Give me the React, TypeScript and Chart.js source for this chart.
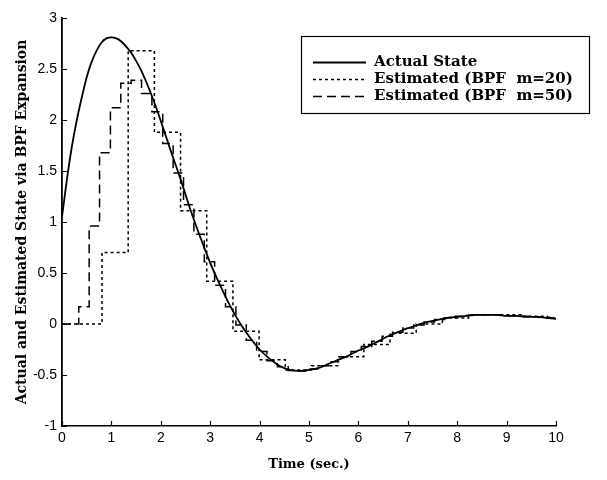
import React, { useEffect, useRef } from "react";
import { Chart, registerables } from "chart.js";

Chart.register(...registerables);

// Actual state (sampled from the reference curve)
const actualT = [0, 0.1, 0.2, 0.3, 0.4, 0.5, 0.6, 0.7, 0.8, 0.9, 1.0, 1.1, 1.2, 1.3, 1.4, 1.5, 1.6, 1.7, 1.8, 1.9, 2.0, 2.2, 2.4, 2.6, 2.8, 3.0, 3.2, 3.4, 3.6, 3.8, 4.0, 4.2, 4.4, 4.6, 4.8, 5.0, 5.2, 5.4, 5.6, 5.8, 6.0, 6.2, 6.4, 6.6, 6.8, 7.0, 7.2, 7.4, 7.6, 7.8, 8.0, 8.2, 8.4, 8.6, 8.8, 9.0, 9.2, 9.4, 9.6, 9.8, 10.0];
const actualY = [1.05, 1.42, 1.74, 2.0, 2.22, 2.42, 2.57, 2.68, 2.76, 2.8, 2.81, 2.8, 2.77, 2.72, 2.66, 2.58, 2.49, 2.38, 2.26, 2.13, 1.99, 1.7, 1.42, 1.12, 0.85, 0.6, 0.38, 0.18, 0.01, -0.13, -0.25, -0.34, -0.41, -0.45, -0.46, -0.45, -0.43, -0.39, -0.35, -0.31, -0.26, -0.22, -0.17, -0.12, -0.08, -0.04, -0.01, 0.02, 0.04, 0.06, 0.07, 0.08, 0.09, 0.09, 0.09, 0.08, 0.08, 0.07, 0.07, 0.06, 0.05];

// Estimated (BPF m=20): step start times and step values
const m20Times = [0, 0.81, 1.34, 1.87, 2.4, 2.93, 3.46, 3.99, 4.52, 5.05, 5.58, 6.11, 6.64, 7.17, 7.7, 8.23, 8.76, 9.29, 9.82];
const m20Values = [0, 0.7, 2.68, 1.88, 1.11, 0.42, -0.07, -0.35, -0.45, -0.41, -0.32, -0.2, -0.09, 0.0, 0.06, 0.09, 0.09, 0.075, 0.06];

// Estimated (BPF m=50): step start times and step values
const m50Times = [0, 0.34, 0.55, 0.76, 0.98, 1.19, 1.4, 1.61, 1.82, 2.04, 2.25, 2.46, 2.67, 2.88, 3.09, 3.31, 3.52, 3.73, 3.94, 4.15, 4.36, 4.58, 4.79, 5.0, 5.21, 5.42, 5.63, 5.85, 6.06, 6.27, 6.48, 6.69, 6.9, 7.12, 7.33, 7.54, 7.75, 7.96, 8.17, 8.39, 8.6, 8.81, 9.02, 9.23, 9.44, 9.66, 9.87];
const m50Values = [0, 0.17, 0.96, 1.68, 2.12, 2.36, 2.39, 2.26, 2.08, 1.77, 1.48, 1.17, 0.88, 0.61, 0.38, 0.17, -0.01, -0.16, -0.27, -0.36, -0.42, -0.455, -0.46, -0.44, -0.41, -0.37, -0.32, -0.27, -0.22, -0.17, -0.12, -0.08, -0.04, -0.01, 0.02, 0.045, 0.06, 0.075, 0.085, 0.09, 0.09, 0.09, 0.08, 0.075, 0.07, 0.065, 0.06];

const xEnd = 10;
const xTickValues = [0, 1, 2, 3, 4, 5, 6, 7, 8, 9, 10];
const yTickValues = [-1, -0.5, 0, 0.5, 1, 1.5, 2, 2.5, 3];
const seriesLabels = ["Actual State", "Estimated (BPF  m=20)", "Estimated (BPF  m=50)"];
const xTitle = "Time (sec.)";
const yTitle = "Actual and Estimated State via BPF Expansion";

const Y_TITLE_FONT = "bold 14px 'DejaVu Serif', 'Liberation Serif', serif";
const X_TITLE_FONT = "bold 13px 'DejaVu Serif', 'Liberation Serif', serif";
const LEGEND_FONT = "bold 15px 'DejaVu Serif', 'Liberation Serif', serif";

const decorPlugin = {
  id: "decor",
  afterDraw(chart: any) {
    const ctx = chart.ctx as CanvasRenderingContext2D;
    const area = chart.chartArea;
    const xs = chart.scales.x;
    const ys = chart.scales.y;
    ctx.save();
    // inward tick marks
    ctx.strokeStyle = "#000";
    ctx.lineWidth = 1.2;
    ctx.setLineDash([]);
    ctx.beginPath();
    xTickValues.forEach((v) => {
      const px = Math.round(xs.getPixelForValue(v)) + 0.5;
      ctx.moveTo(px, area.bottom);
      ctx.lineTo(px, area.bottom - 5);
    });
    yTickValues.forEach((v) => {
      const py = Math.round(ys.getPixelForValue(v)) + 0.5;
      ctx.moveTo(area.left, py);
      ctx.lineTo(area.left + 5, py);
    });
    ctx.stroke();

    ctx.fillStyle = "#000";
    // y title
    ctx.save();
    ctx.translate(22, (area.top + area.bottom) / 2);
    ctx.rotate(-Math.PI / 2);
    ctx.font = Y_TITLE_FONT;
    ctx.textAlign = "center";
    ctx.textBaseline = "middle";
    ctx.fillText(yTitle, 0, 0);
    ctx.restore();

    // x title
    ctx.font = X_TITLE_FONT;
    ctx.textAlign = "center";
    ctx.textBaseline = "middle";
    ctx.fillText(xTitle, (area.left + area.right) / 2, 465);

    // legend
    const bx = 301, by = 36, bw = 288, bh = 77;
    ctx.fillStyle = "#fff";
    ctx.fillRect(bx, by, bw, bh);
    ctx.strokeStyle = "#000";
    ctx.lineWidth = 1.2;
    ctx.strokeRect(bx + 0.5, by + 0.5, bw, bh);
    const rows = [62, 79, 96];
    chart.data.datasets.forEach((ds: any, i: number) => {
      const y = rows[i];
      ctx.strokeStyle = "#000";
      ctx.lineWidth = ds.borderWidth;
      ctx.setLineDash(ds.borderDash || []);
      ctx.beginPath();
      ctx.moveTo(313, y + 0.5);
      ctx.lineTo(366, y + 0.5);
      ctx.stroke();
      ctx.setLineDash([]);
      ctx.fillStyle = "#000";
      ctx.font = LEGEND_FONT;
      ctx.textAlign = "left";
      ctx.textBaseline = "middle";
      ctx.fillText(ds.label, 374, y);
    });
    ctx.restore();
  },
};

function stepPoints(times: number[], values: number[]) {
  const pts = times.map((t, i) => ({ x: t, y: values[i] }));
  pts.push({ x: xEnd, y: values[values.length - 1] });
  return pts;
}

export default function App() {
  const ref = useRef<HTMLCanvasElement | null>(null);
  useEffect(() => {
    if (!ref.current) return;
    const tickFont = { family: "'Liberation Sans', Arial, sans-serif", size: 14 };
    const chart = new Chart(ref.current, {
      type: "line",
      data: {
        datasets: [
          {
            label: seriesLabels[0],
            data: actualT.map((t, i) => ({ x: t, y: actualY[i] })),
            borderColor: "#000",
            borderWidth: 1.8,
            pointRadius: 0,
            cubicInterpolationMode: "monotone",
          },
          {
            label: seriesLabels[1],
            data: stepPoints(m20Times, m20Values),
            borderColor: "#000",
            borderWidth: 1.5,
            borderDash: [3, 3],
            pointRadius: 0,
            stepped: "before",
          },
          {
            label: seriesLabels[2],
            data: stepPoints(m50Times, m50Values),
            borderColor: "#000",
            borderWidth: 1.5,
            borderDash: [9, 5],
            pointRadius: 0,
            stepped: "before",
          },
        ],
      } as any,
      options: {
        animation: false,
        responsive: false,
        maintainAspectRatio: false,
        layout: { padding: { top: 18, right: 51, left: 0, bottom: 0 } },
        plugins: { legend: { display: false }, tooltip: { enabled: false } },
        scales: {
          x: {
            type: "linear",
            min: 0,
            max: 10,
            afterBuildTicks: (s: any) => {
              s.ticks = xTickValues.map((v) => ({ value: v }));
            },
            afterFit: (s: any) => {
              s.height = 54;
            },
            ticks: { font: tickFont, color: "#000", padding: 4, maxRotation: 0, autoSkip: false, callback: (v: any) => String(v) },
            grid: { display: false, drawTicks: false },
            border: { display: true, color: "#000", width: 1.5 },
          },
          y: {
            type: "linear",
            min: -1,
            max: 3,
            afterBuildTicks: (s: any) => {
              s.ticks = yTickValues.map((v) => ({ value: v }));
            },
            afterFit: (s: any) => {
              s.width = 62;
            },
            ticks: { font: tickFont, color: "#000", padding: 5, autoSkip: false, callback: (v: any) => String(v) },
            grid: { display: false, drawTicks: false },
            border: { display: true, color: "#000", width: 1.8 },
          },
        },
      } as any,
      plugins: [decorPlugin],
    });
    return () => chart.destroy();
  }, []);
  return (
    <div style={{ position: "fixed", left: 0, top: 0, width: 607, height: 480, background: "#fff" }}>
      <canvas ref={ref} width={607} height={480} style={{ width: 607, height: 480, display: "block" }} />
    </div>
  );
}
